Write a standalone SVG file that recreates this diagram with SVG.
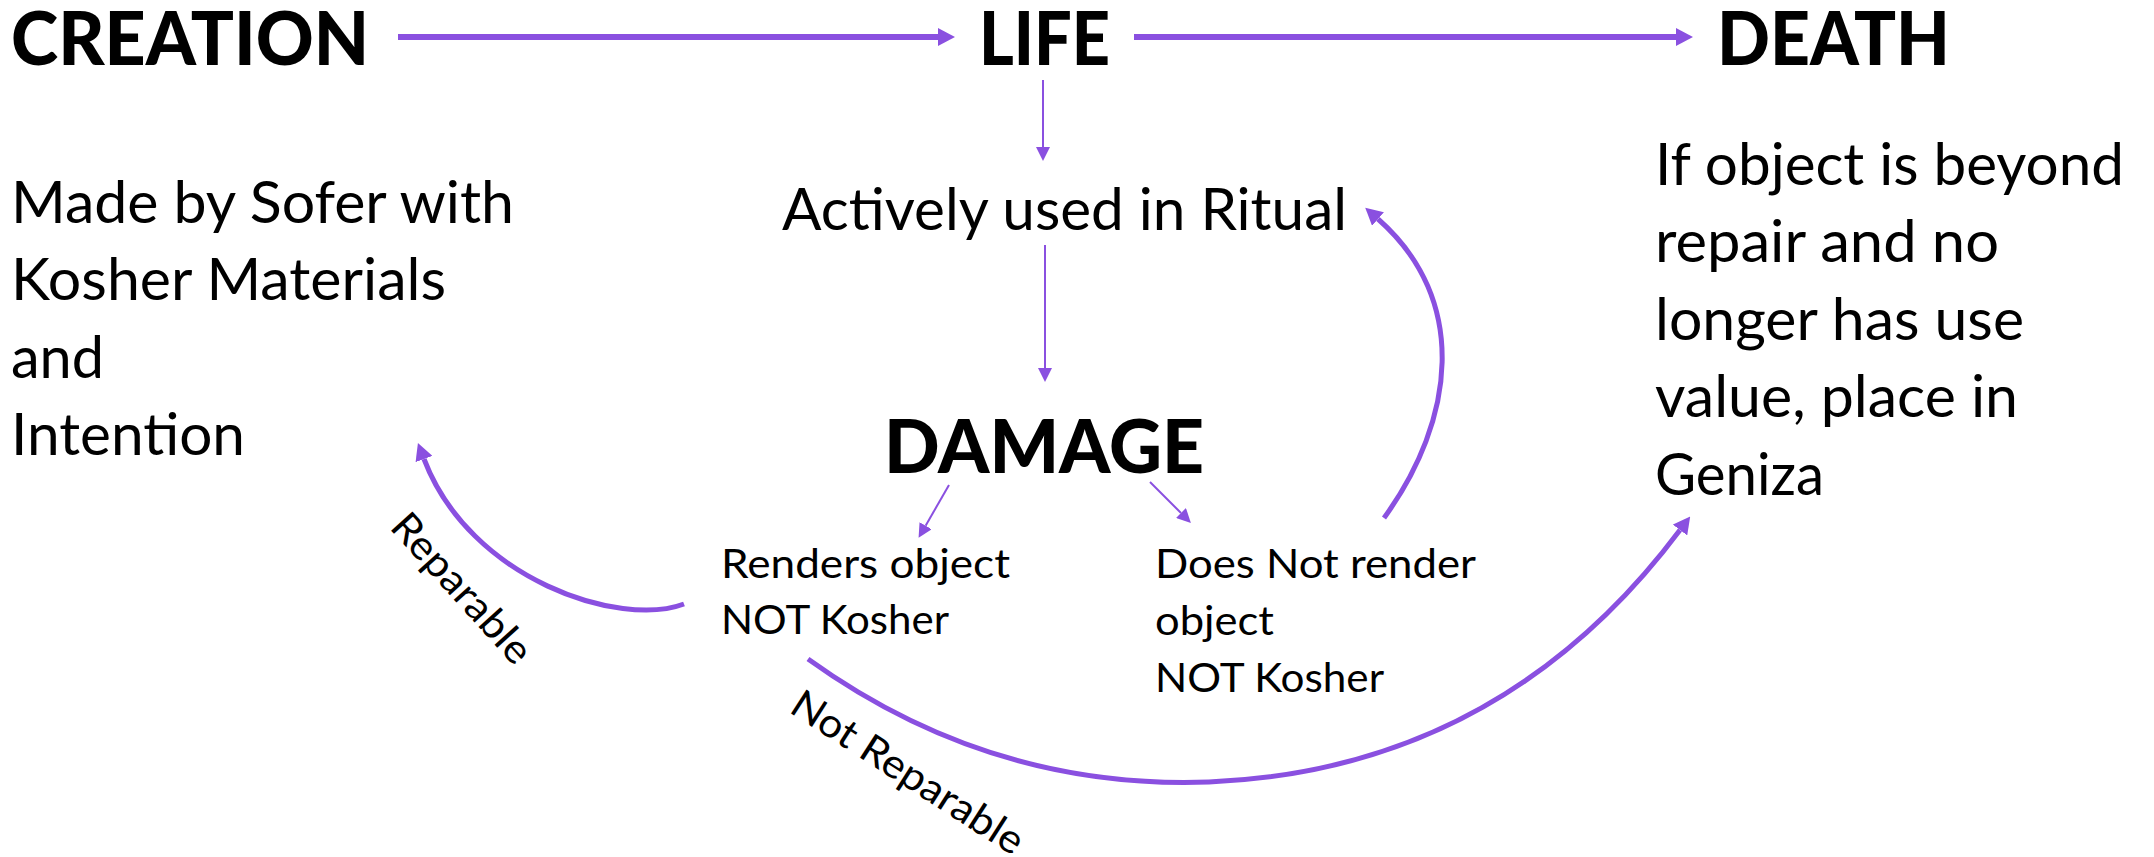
<svg xmlns="http://www.w3.org/2000/svg" width="2154" height="857" viewBox="0 0 2154 857">
<style>
text{font-family:Lato,"Open Sans","Liberation Sans",sans-serif;fill:#000}
.h{font-size:75px;font-weight:900}
.b{font-size:58px}
.s{font-size:40px}
.thick{fill:none;stroke:#8a50e0;stroke-width:5}
.top{stroke-width:6}
.thin{fill:none;stroke:#8a50e0;stroke-width:2}
</style>
<defs>
<marker id="ah" markerUnits="userSpaceOnUse" viewBox="0 0 17 18" refX="0" refY="9" markerWidth="17" markerHeight="18" orient="auto"><path d="M0,0 L17,9 L0,18 z" fill="#8a50e0"/></marker>
<marker id="at" markerUnits="userSpaceOnUse" viewBox="0 0 14 14" refX="0" refY="7" markerWidth="14" markerHeight="14" orient="auto"><path d="M0,0 L14,7 L0,14 z" fill="#8a50e0"/></marker>
</defs>
<g id="connectors">
<path class="thick top" d="M398 37 L938 37" marker-end="url(#ah)"/>
<path class="thick top" d="M1134 37 L1676 37" marker-end="url(#ah)"/>
<path class="thin" d="M1043 80 L1043 147" marker-end="url(#at)"/>
<path class="thin" d="M1045 245 L1045 368" marker-end="url(#at)"/>
<path class="thin" d="M949 485 L925.6 525.7" marker-end="url(#at)"/>
<path class="thin" d="M1150 482 L1181 513" marker-end="url(#at)"/>
<path class="thick" d="M684 604 C620 628 470 580 424 459" marker-end="url(#ah)"/>
<path class="thick" d="M808 659 Q990 790 1209 782 Q1500 770 1680 530" marker-end="url(#ah)"/>
<path class="thick" d="M1384 518 C1455 420 1470 300 1378 219" marker-end="url(#ah)"/>
</g>
<g id="creation"><text class="h" x="11" y="65" textLength="358" lengthAdjust="spacingAndGlyphs">CREATION</text></g>
<g id="life"><text class="h" x="979" y="65" textLength="131" lengthAdjust="spacingAndGlyphs">LIFE</text></g>
<g id="death"><text class="h" x="1717" y="65" textLength="233" lengthAdjust="spacingAndGlyphs">DEATH</text></g>
<g id="creation-desc">
<text class="b" x="11" y="223" textLength="503" lengthAdjust="spacingAndGlyphs">Made by Sofer with</text>
<text class="b" x="11" y="300" textLength="435" lengthAdjust="spacingAndGlyphs">Kosher Materials</text>
<text class="b" x="11" y="378" textLength="93" lengthAdjust="spacingAndGlyphs">and</text>
<text class="b" x="11" y="455" textLength="234" lengthAdjust="spacingAndGlyphs">Intention</text>
</g>
<g id="ritual"><text class="b" x="782" y="230" textLength="565" lengthAdjust="spacingAndGlyphs">Actively used in Ritual</text></g>
<g id="damage"><text class="h" x="884" y="473" textLength="320" lengthAdjust="spacingAndGlyphs">DAMAGE</text></g>
<g id="not-kosher">
<text class="s" x="721" y="578" textLength="289" lengthAdjust="spacingAndGlyphs">Renders object</text>
<text class="s" x="721" y="634" textLength="228" lengthAdjust="spacingAndGlyphs">NOT Kosher</text>
</g>
<g id="still-kosher">
<text class="s" x="1155" y="578" textLength="321" lengthAdjust="spacingAndGlyphs">Does Not render</text>
<text class="s" x="1155" y="635" textLength="119" lengthAdjust="spacingAndGlyphs">object</text>
<text class="s" x="1155" y="692" textLength="229" lengthAdjust="spacingAndGlyphs">NOT Kosher</text>
</g>
<g id="death-desc">
<text class="b" x="1655" y="185" textLength="469" lengthAdjust="spacingAndGlyphs">If object is beyond</text>
<text class="b" x="1655" y="262" textLength="344" lengthAdjust="spacingAndGlyphs">repair and no</text>
<text class="b" x="1655" y="340" textLength="369" lengthAdjust="spacingAndGlyphs">longer has use</text>
<text class="b" x="1655" y="417" textLength="363" lengthAdjust="spacingAndGlyphs">value, place in</text>
<text class="b" x="1655" y="495" textLength="169" lengthAdjust="spacingAndGlyphs">Geniza</text>
</g>
<g id="labels">
<text class="s" x="462" y="602" text-anchor="middle" transform="rotate(47.8 462 588)" textLength="188" lengthAdjust="spacingAndGlyphs">Reparable</text>
<text class="s" x="908" y="786" text-anchor="middle" transform="rotate(32.7 908 772)" textLength="268" lengthAdjust="spacingAndGlyphs">Not Reparable</text>
</g>
</svg>
